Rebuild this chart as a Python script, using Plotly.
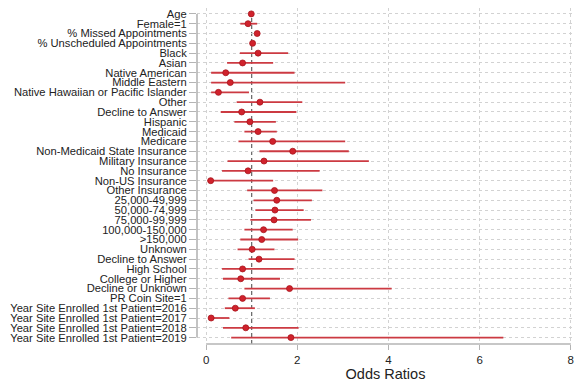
import plotly.graph_objects as go

# Covariates, top to bottom
labels = [
    "Age", "Female=1", "% Missed Appointments", "% Unscheduled Appointments",
    "Black", "Asian", "Native American", "Middle Eastern",
    "Native Hawaiian or Pacific Islander", "Other", "Decline to Answer", "Hispanic",
    "Medicaid", "Medicare", "Non-Medicaid State Insurance", "Military Insurance",
    "No Insurance", "Non-US Insurance", "Other Insurance",
    "25,000-49,999", "50,000-74,999", "75,000-99,999", "100,000-150,000", ">150,000",
    "Unknown", "Decline to Answer", "High School", "College or Higher",
    "Decline or Unknown", "PR Coin Site=1",
    "Year Site Enrolled 1st Patient=2016", "Year Site Enrolled 1st Patient=2017",
    "Year Site Enrolled 1st Patient=2018", "Year Site Enrolled 1st Patient=2019",
]

# Odds ratios with lower / upper 95% confidence limits
odds_ratio = [
    0.99, 0.92, 1.12, 1.02,
    1.14, 0.80, 0.43, 0.53,
    0.27, 1.18, 0.78, 0.96,
    1.14, 1.46, 1.90, 1.27,
    0.92, 0.10, 1.50,
    1.55, 1.51, 1.49, 1.26, 1.22,
    1.01, 1.16, 0.80, 0.76,
    1.83, 0.80,
    0.64, 0.11,
    0.87, 1.86,
]
ci_low = [
    0.98, 0.75, 1.10, 1.00,
    0.74, 0.46, 0.11, 0.11,
    0.11, 0.67, 0.32, 0.62,
    0.84, 0.71, 1.17, 0.47,
    0.35, 0.03, 0.90,
    1.04, 1.08, 0.97, 0.84, 0.75,
    0.69, 0.93, 0.35, 0.37,
    0.84, 0.49,
    0.41, 0.06,
    0.37, 0.55,
]
ci_high = [
    1.00, 1.12, 1.14, 1.04,
    1.80, 1.47, 1.94, 3.05,
    0.94, 2.11, 1.98, 1.53,
    1.55, 3.05, 3.13, 3.57,
    2.49, 1.47, 2.55,
    2.32, 2.14, 2.30, 1.90, 2.02,
    1.50, 1.94, 1.92, 1.62,
    4.07, 1.40,
    1.07, 0.51,
    2.03, 6.52,
]

x_ticks = [0, 2, 4, 6, 8]

rows = list(range(len(labels)))
err_plus = [h - m for h, m in zip(ci_high, odds_ratio)]
err_minus = [m - l for m, l in zip(odds_ratio, ci_low)]

axis_gray = "#b4b4b4"
grid_gray = "#d2d2d2"
font_family = "Liberation Sans, Arial, sans-serif"

fig = go.Figure()
fig.add_trace(go.Scatter(
    x=odds_ratio, y=rows, mode="markers",
    marker=dict(size=6, color="#d0222c", line=dict(color="#a8141c", width=0.8)),
    error_x=dict(type="data", symmetric=False, array=err_plus, arrayminus=err_minus,
                 color="#cc3a42", thickness=1.8, width=0),
    showlegend=False, hoverinfo="skip",
))

# Reference line at OR = 1
fig.add_shape(type="line", xref="x", yref="paper", x0=1, x1=1, y0=0, y1=1,
              line=dict(color="#555555", width=1.1, dash="4px,3px"), layer="below")
# Detached axis lines
fig.add_shape(type="line", xref="paper", yref="y", x0=0, x1=0, y0=0, y1=len(labels) - 1,
              line=dict(color=axis_gray, width=1.6))
fig.add_shape(type="line", xref="x", yref="paper", x0=0, x1=8, y0=0, y1=0,
              line=dict(color=axis_gray, width=1.6))

fig.update_layout(
    width=574, height=384,
    margin=dict(l=197, r=0, t=8, b=40),
    paper_bgcolor="white", plot_bgcolor="white",
    font=dict(family=font_family, color="#222222"),
)
fig.update_xaxes(
    range=[-0.2, 8.07], tickvals=x_ticks, ticktext=[str(v) for v in x_ticks],
    showgrid=True, gridcolor=grid_gray, griddash="dot", gridwidth=1,
    zeroline=False, showline=False,
    ticks="outside", ticklen=5, tickcolor=axis_gray, tickwidth=1.3,
    ticklabeloverflow="allow",
    tickfont=dict(size=11.5, color="#222222"),
    title=dict(text="Odds Ratios", font=dict(size=14.5, color="#222222"), standoff=4),
)
fig.update_yaxes(
    range=[len(labels) - 1 + 0.65, -0.6],
    tickvals=rows, ticktext=labels,
    showgrid=True, gridcolor=grid_gray, griddash="dot", gridwidth=1,
    zeroline=False, showline=False,
    ticks="outside", ticklen=7, tickcolor=axis_gray, tickwidth=1.3,
    tickfont=dict(size=11.2, color="#222222"),
)

fig.write_html("out.html")
